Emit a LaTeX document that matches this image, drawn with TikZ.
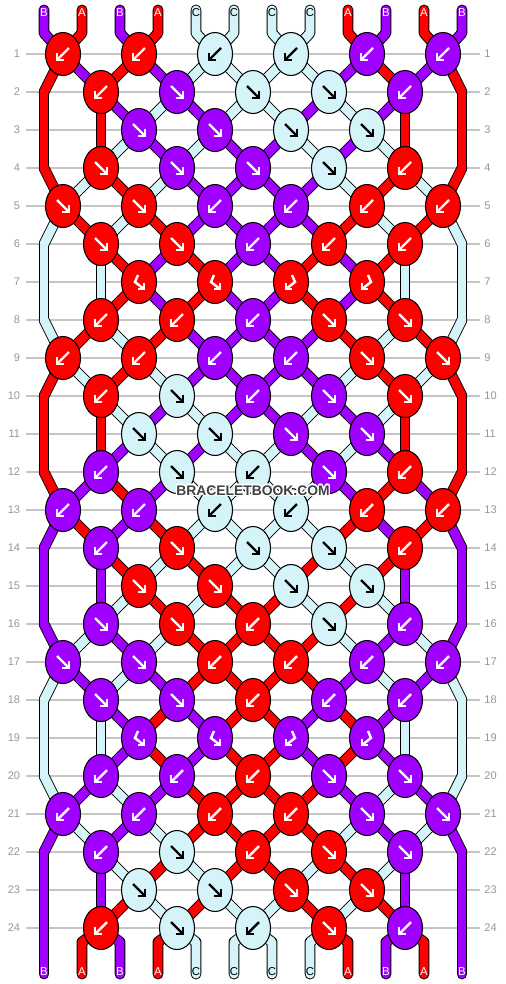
\documentclass[tikz,border=0pt]{standalone}
\usepackage{fontspec}
\setmainfont{Liberation Sans}
\usepackage{contour}
\contourlength{0.7pt}
\usetikzlibrary{shapes.geometric}
\definecolor{colA}{RGB}{255,0,0}
\definecolor{colB}{RGB}{160,0,255}
\definecolor{colC}{RGB}{212,244,250}
\definecolor{rowgray}{RGB}{150,150,150}
\definecolor{markgray}{RGB}{64,64,64}

% x of strand slot #1 in knot row #2, result in #3
\newcommand{\slotx}[3]{%
  \pgfmathtruncatemacro\slotodd{mod(#1,2)}%
  \pgfmathtruncatemacro\slotrow{mod(#2,4)}%
  \ifodd#2\relax
    \pgfmathsetmacro#3{44+38*(#1-1)+(\slotodd==1?19:-19)}%
    \ifnum\slotrow=3
      \ifnum#1=1 \def#3{44}\fi
      \ifnum#1=2 \def#3{101}\fi
      \ifnum#1=11 \def#3{405}\fi
      \ifnum#1=12 \def#3{462}\fi
    \fi
  \else
    \pgfmathsetmacro#3{44+38*(#1-1)+(\slotodd==1?-19:19)}%
    \ifnum#1=1 \def#3{44}\fi
    \ifnum#1=12 \def#3{462}\fi
  \fi}

% arrow inside a knot: F forward, B backward, L/R forward-backward pairs
\newcommand{\knotglyph}[3]{%
  \begin{scope}[shift={(#2)}, glyph, draw=#3]
    \if#1F \draw (-6,-6) -- (6,6); \draw (-1,6) -- (6,6) -- (6,-1); \fi
    \if#1B \draw (6,-6) -- (-6,6); \draw (1,6) -- (-6,6) -- (-6,-1); \fi
    \if#1L \draw (-1,-7) -- (-4,0) -- (5,7); \draw (-1,7) -- (5,7) -- (5,1); \fi
    \if#1R \draw (1,-7) -- (4,0) -- (-5,7); \draw (1,7) -- (-5,7) -- (-5,1); \fi
  \end{scope}}

\begin{document}
\begin{tikzpicture}[x=0.02cm, y=-0.02cm,
  knot/.style={ellipse, draw=black, line width=0.6pt, minimum width=0.7cm, minimum height=0.86cm, inner sep=0pt},
  glyph/.style={line width=1.4pt, line join=miter},
  strand/.style={line cap=round, line join=round},
  rowline/.style={draw=rowgray!55, line width=0.6pt},
  rowlabel/.style={text=rowgray, font=\fontsize{6.3}{7}\selectfont, inner sep=0pt},
  endlabel/.style={font=\fontsize{6.5}{7}\selectfont, inner sep=0pt}]
\useasboundingbox (0,0) rectangle (506,984);

% row numbers and guide lines
\foreach \r in {1,...,24}{
  \node[rowlabel, anchor=east] (ll\r) at (20.5, {54+38*(\r-1)}) {\r};
  \node[rowlabel, anchor=west] (rl\r) at (484, {54+38*(\r-1)}) {\r};
  \draw[rowline, shorten <=0.11cm, shorten >=0.08cm] (ll\r.east) -- (rl\r.west);
}

% strands: colour of each slot below knot row \r
\foreach \pass/\lw in {0/6.2pt, 1/5.1pt}{
\foreach \r/\cols in {
  0/{B,A,B,A,C,C,C,C,A,B,A,B}, 1/{A,B,A,B,C,C,C,C,B,A,B,A},
  2/{A,A,B,C,B,C,C,B,C,B,A,A}, 3/{A,A,C,B,C,B,B,C,B,C,A,A},
  4/{A,C,A,C,B,B,B,B,C,A,C,A}, 5/{C,A,C,A,B,B,B,B,A,C,A,C},
  6/{C,C,A,B,A,B,B,A,B,A,C,C}, 7/{C,C,A,B,A,B,B,A,B,A,C,C},
  8/{C,A,C,A,B,B,B,B,A,C,A,C}, 9/{A,C,A,C,B,B,B,B,C,A,C,A},
  10/{A,A,C,B,C,B,B,C,B,C,A,A}, 11/{A,A,B,C,B,C,C,B,C,B,A,A},
  12/{A,B,A,B,C,C,C,C,B,A,B,A}, 13/{B,A,B,A,C,C,C,C,A,B,A,B},
  14/{B,B,A,C,A,C,C,A,C,A,B,B}, 15/{B,B,C,A,C,A,A,C,A,C,B,B},
  16/{B,C,B,C,A,A,A,A,C,B,C,B}, 17/{C,B,C,B,A,A,A,A,B,C,B,C},
  18/{C,C,B,A,B,A,A,B,A,B,C,C}, 19/{C,C,B,A,B,A,A,B,A,B,C,C},
  20/{C,B,C,B,A,A,A,A,B,C,B,C}, 21/{B,C,B,C,A,A,A,A,C,B,C,B},
  22/{B,B,C,A,C,A,A,C,A,C,B,B}, 23/{B,B,A,C,A,C,C,A,C,A,B,B},
  24/{B,A,B,A,C,C,C,C,A,B,A,B}}{
  \foreach \c [count=\p] in \cols {
    \ifnum\pass=0 \def\sc{black}\else\def\sc{col\c}\fi
    \pgfmathsetmacro\xe{44+38*(\p-1)}
    \ifnum\r=0
      \slotx{\p}{1}{\xb}
      \draw[strand, line width=\lw, draw=\sc] (\xe,10) -- (\xe,33) -- (\xb,54);
    \else\ifnum\r=24
      \slotx{\p}{24}{\xa}
      \draw[strand, line width=\lw, draw=\sc] (\xa,928) -- (\xe,942) -- (\xe,974);
    \else
      \pgfmathtruncatemacro\rn{\r+1}
      \slotx{\p}{\r}{\xa}
      \slotx{\p}{\rn}{\xb}
      \draw[strand, line width=\lw, draw=\sc] (\xa,{54+38*(\r-1)}) -- (\xb,{54+38*\r});
    \fi\fi
  }}}

% knots: colour/type
\foreach \r/\knots in {
  1/{A/B,A/B,C/B,C/B,B/B,B/B}, 2/{A/B,B/F,C/F,C/F,B/B},
  3/{B/F,B/F,C/F,C/F}, 4/{A/F,B/F,B/F,C/F,A/B},
  5/{A/F,A/F,B/B,B/B,A/B,A/B}, 6/{A/F,A/F,B/B,A/B,A/B},
  7/{A/L,A/L,A/R,A/R}, 8/{A/B,A/B,B/B,A/F,A/F},
  9/{A/B,A/B,B/B,B/B,A/F,A/F}, 10/{A/B,C/F,B/B,B/F,A/F},
  11/{C/F,C/F,B/F,B/F}, 12/{B/B,C/F,C/B,B/F,A/B},
  13/{B/B,B/B,C/B,C/B,A/B,A/B}, 14/{B/B,A/F,C/F,C/F,A/B},
  15/{A/F,A/F,C/F,C/F}, 16/{B/F,A/F,A/B,C/F,B/B},
  17/{B/F,B/F,A/B,A/B,B/B,B/B}, 18/{B/F,B/F,A/B,B/B,B/B},
  19/{B/L,B/L,B/R,B/R}, 20/{B/B,B/B,A/B,B/F,B/F},
  21/{B/B,B/B,A/B,A/B,B/F,B/F}, 22/{B/B,C/F,A/B,A/F,B/F},
  23/{C/F,C/F,A/F,A/F}, 24/{A/B,C/F,C/B,A/F,B/B}}{
  \pgfmathtruncatemacro\rm{mod(\r,4)}
  \ifodd\r\relax
    \ifnum\rm=1 \def\xs{63}\else\def\xs{139}\fi
  \else
    \def\xs{101}
  \fi
  \foreach \kc/\kt [count=\i] in \knots {
    \def\gc{white}\if\kc C\def\gc{black}\fi
    \node[knot, fill=col\kc] (k\r-\i) at ({\xs+76*(\i-1)}, {54+38*(\r-1)}) {};
    \knotglyph{\kt}{k\r-\i}{\gc}
  }}

% thread letters
\foreach \c [count=\p] in {B,A,B,A,C,C,C,C,A,B,A,B}{
  \def\tc{white}\if\c C\def\tc{black}\fi
  \node[endlabel, text=\tc] (top\p) at ({44+38*(\p-1)}, 12.5) {\c};
  \node[endlabel, text=\tc] (bot\p) at ({44+38*(\p-1)}, 972) {\c};
}

\node[font=\bfseries\fontsize{7.9}{9}\selectfont, text=markgray, inner sep=0pt] (mark) at (253,491) {\contour{white}{BRACELETBOOK.COM}};
\end{tikzpicture}
\end{document}
